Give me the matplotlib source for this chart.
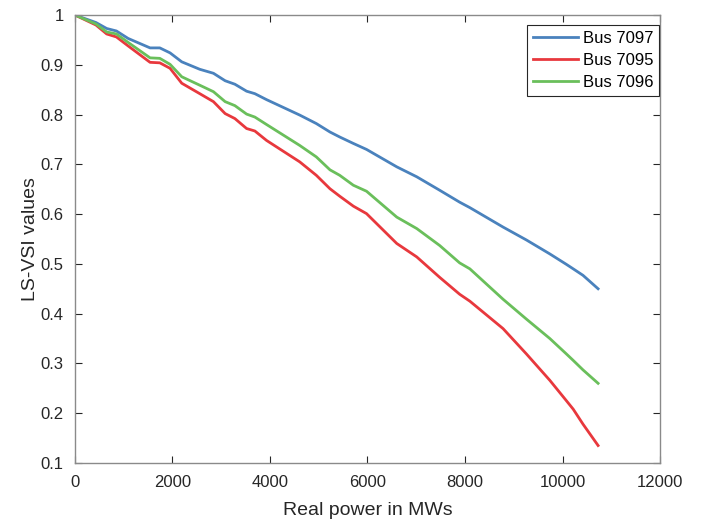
import matplotlib.pyplot as plt

plt.rcParams['font.family'] = ['Liberation Sans', 'DejaVu Sans']

# real power (MW) and LS-VSI values
power = [0, 430, 650, 850, 1090, 1540, 1740, 1950, 2190, 2560, 2840, 3080, 3280,
         3520, 3690, 3930, 4610, 4950, 5230, 5430, 5710, 5980, 6600, 7010, 7480,
         7890, 8100, 8780, 9260, 9740, 10080, 10220, 10420, 10730]
bus7097 = [1.0, 0.985, 0.973, 0.968, 0.953, 0.934, 0.934, 0.924, 0.906, 0.891, 0.883,
           0.868, 0.861, 0.847, 0.842, 0.830, 0.799, 0.782, 0.765, 0.755, 0.742, 0.730,
           0.695, 0.675, 0.648, 0.624, 0.613, 0.574, 0.548, 0.520, 0.499, 0.490, 0.477,
           0.450]
bus7095 = [1.0, 0.980, 0.962, 0.956, 0.938, 0.905, 0.904, 0.893, 0.863, 0.842, 0.826,
           0.802, 0.792, 0.772, 0.767, 0.748, 0.705, 0.678, 0.651, 0.636, 0.616, 0.601,
           0.541, 0.514, 0.473, 0.439, 0.425, 0.370, 0.319, 0.266, 0.225, 0.208, 0.178,
           0.135]
bus7096 = [1.0, 0.982, 0.966, 0.962, 0.945, 0.914, 0.913, 0.901, 0.876, 0.859, 0.846,
           0.826, 0.818, 0.801, 0.795, 0.780, 0.738, 0.715, 0.689, 0.678, 0.658, 0.646,
           0.594, 0.571, 0.537, 0.502, 0.490, 0.429, 0.389, 0.350, 0.319, 0.306, 0.287,
           0.260]

fig = plt.figure(figsize=(7.1, 5.19), dpi=100)
ax = fig.add_axes([0.1056, 0.108, 0.824, 0.863])

ax.plot(power, bus7097, color='#4a82bd', lw=2, label='Bus 7097')
ax.plot(power, bus7095, color='#e8383d', lw=2, label='Bus 7095')
ax.plot(power, bus7096, color='#6abf5b', lw=2, label='Bus 7096')

ax.set_xlim(0, 12000)
ax.set_ylim(0.1, 1)
ax.set_xticks(range(0, 12001, 2000))
ax.set_yticks([0.1, 0.2, 0.3, 0.4, 0.5, 0.6, 0.7, 0.8, 0.9, 1])
ax.set_yticklabels(['0.1', '0.2', '0.3', '0.4', '0.5', '0.6', '0.7', '0.8', '0.9', '1'])
ax.tick_params(direction='in', top=True, right=True, labelsize=12,
               colors='#262626', length=5, width=0.8)
ax.tick_params(axis='x', pad=9)
ax.tick_params(axis='y', pad=8)
for s in ax.spines.values():
    s.set_color('#8a8a8a')
    s.set_linewidth(1)

ax.set_xlabel('Real power in MWs', fontsize=14, color='#262626', labelpad=8)
ax.set_ylabel('LS-VSI values', fontsize=14, color='#262626', labelpad=1)

leg = ax.legend(loc='upper right', bbox_to_anchor=(0.998, 0.978), borderaxespad=0,
                fontsize=12, fancybox=False, framealpha=1, edgecolor='#262626',
                handlelength=2.7, handletextpad=0.3, borderpad=0.35,
                labelspacing=0.42)
leg.get_frame().set_linewidth(0.8)

fig.savefig('out.png')
